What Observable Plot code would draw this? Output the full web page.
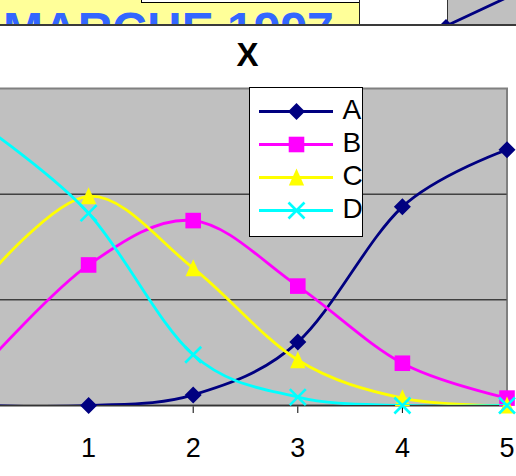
<!DOCTYPE html>
<html>
<head>
<meta charset="utf-8">
<script src="https://cdn.jsdelivr.net/npm/d3@7"></script>
<script src="https://cdn.jsdelivr.net/npm/@observablehq/plot@0.6"></script>
<style>
  html, body { margin: 0; padding: 0; overflow: hidden; background: #fff; }
  #page { position: relative; width: 516px; height: 476px; overflow: hidden; font-family: "Liberation Sans", Arial, sans-serif; }
  .abs { position: absolute; }
  #banner { left: 0; top: 0; width: 359px; height: 24px; background: #ffff99; border-right: 1px solid #222; overflow: hidden; }
  #banner .name { position: absolute; left: 3px; top: 19.8px; font-size: 48px; line-height: 20px; font-weight: bold; color: #3366ff; white-space: nowrap; }
  #banner .box { position: absolute; left: 141px; top: -1px; width: 217px; height: 2px; background: #fff; border: 1px solid #000; }
  #prevArea { left: 447px; top: 0; width: 69px; height: 24px; background: #c0c0c0; border-left: 1px solid #333; }
  #prevPlot { left: 430px; top: 0; width: 86px; height: 25px; overflow: hidden; }
  #rule { left: 0; top: 24px; width: 516px; height: 2px; background: #3a3a3a; }
  #title { left: 0; top: 41.5px; width: 495px; text-align: center; font-size: 33px; line-height: 26px; font-weight: bold; color: #000; }
  #chart { left: -46px; top: 60px; }
  #legend { left: 249px; top: 87px; width: 112px; height: 148px; background: #fff; border: 1px solid #000; }
</style>
</head>
<body>
<div id="page">
  <div id="banner" class="abs"><div class="name">MARCHE 1997</div><div class="box"></div></div>
  <div id="prevArea" class="abs"></div>
  <div id="prevPlot" class="abs"></div>
  <div id="rule" class="abs"></div>
  <div id="title" class="abs">X</div>
  <div id="chart" class="abs"></div>
  <div id="legend" class="abs"></div>
</div>
<script>
// x positions (0 sits just left of the visible area)
const xValues = [0, 1, 2, 3, 4, 5];
const xTicks = [1, 2, 3, 4, 5];
const gridValues = [1, 2];
const seriesNames = ["A", "B", "C", "D"];
const seriesA = [0, 0, 0.10, 0.60, 1.88, 2.42];
const seriesB = [0.37, 1.33, 1.75, 1.13, 0.40, 0.07];
const seriesC = [1.18, 1.98, 1.30, 0.43, 0.07, 0];
const seriesD = [2.64, 1.82, 0.48, 0.08, 0, 0];

// tail of the preceding chart at the top of the sheet
const prevX = [0, 1.3];
const prevValues = [0, 1.3];

const fontFamily = "'Liberation Sans', Arial, sans-serif";

// marker shapes: the radius r passed to Plot is the half-extent of the shape
const half = size => Math.sqrt(size / Math.PI);
const diamondSymbol = {draw(c, s) { const h = half(s); c.moveTo(0, -h); c.lineTo(h, 0); c.lineTo(0, h); c.lineTo(-h, 0); c.closePath(); }};
const squareSymbol = {draw(c, s) { const h = half(s); c.rect(-h, -h, 2 * h, 2 * h); }};
const triangleSymbol = {draw(c, s) { const h = half(s); c.moveTo(0, -h * 1.05); c.lineTo(h * 0.9, h * 0.95); c.lineTo(-h * 0.9, h * 0.95); c.closePath(); }};
const crossSymbol = {draw(c, s) { const h = half(s); c.moveTo(-h, -h); c.lineTo(h, h); c.moveTo(-h, h); c.lineTo(h, -h); }};

const series = [
  {name: seriesNames[0], values: seriesA, color: "#000080", symbol: diamondSymbol, r: 8.5, filled: true},
  {name: seriesNames[1], values: seriesB, color: "#ff00ff", symbol: squareSymbol, r: 7.8, filled: true},
  {name: seriesNames[2], values: seriesC, color: "#ffff00", symbol: triangleSymbol, r: 8.5, filled: true},
  {name: seriesNames[3], values: seriesD, color: "#00ffff", symbol: crossSymbol, r: 8, filled: false}
];

function markerOptions(s) {
  return s.filled
    ? {symbol: s.symbol, r: s.r, fill: s.color, stroke: "none"}
    : {symbol: s.symbol, r: s.r, fill: "none", stroke: s.color, strokeWidth: 2.6};
}

// main chart
const seriesMarks = series.flatMap(s => {
  const rows = xValues.map((x, i) => ({x, y: s.values[i]}));
  return [
    Plot.line(rows, {x: "x", y: "y", stroke: s.color, strokeWidth: 2.8, curve: "cardinal", clip: true}),
    Plot.dot(rows, {x: "x", y: "y", ...markerOptions(s)})
  ];
});

const chart = Plot.plot({
  width: 562,
  height: 416,
  marginLeft: 29.5,
  marginRight: 9.5,
  marginTop: 28,
  marginBottom: 71,
  x: {domain: [0, 5], ticks: xTicks, tickSize: 8, tickPadding: 24, tickFormat: d => String(d), label: null},
  y: {domain: [0, 3], axis: null},
  style: {fontFamily, fontSize: "27px", color: "#000", background: "transparent", overflow: "visible"},
  marks: [
    Plot.frame({fill: "#c0c0c0", stroke: "#808080", strokeWidth: 2}),
    Plot.ruleY(gridValues, {stroke: "#000", strokeWidth: 1}),
    Plot.ruleY([0], {stroke: "#333", strokeWidth: 1.5}),
    ...seriesMarks
  ]
});
document.getElementById("chart").appendChild(chart);

// legend
const legend = Plot.plot({
  width: 112,
  height: 148,
  margin: 0,
  x: {domain: [0, 1], range: [9, 83], axis: null},
  y: {type: "point", domain: seriesNames, range: [21.5, 123], padding: 0, axis: null},
  style: {fontFamily, fontSize: "28px", color: "#000", background: "transparent", overflow: "visible"},
  marks: series.flatMap(s => [
    Plot.ruleY([s.name], {x1: 0, x2: 1, stroke: s.color, strokeWidth: 2.8}),
    Plot.dot([s.name], {x: 0.5, y: d => d, ...markerOptions(s)}),
    Plot.text([s.name], {x: 1, y: d => d, text: d => d, dx: 9, dy: -1, fontSize: 28, textAnchor: "start", fill: "#000"})
  ])
});
document.getElementById("legend").appendChild(legend);

// preceding chart's last segment
const prevRows = prevX.map((x, i) => ({x, y: prevValues[i]}));
const prevPlot = Plot.plot({
  width: 86,
  height: 25,
  margin: 0,
  x: {domain: [0, 1], range: [15.5, 70], axis: null},
  y: {domain: [0, 1], range: [25.5, 0], axis: null},
  style: {background: "transparent"},
  marks: [
    Plot.line(prevRows, {x: "x", y: "y", stroke: "#000080", strokeWidth: 2.8}),
    Plot.dot(prevRows.slice(0, 1), {x: "x", y: "y", symbol: diamondSymbol, r: 7, fill: "#000080"})
  ]
});
document.getElementById("prevPlot").appendChild(prevPlot);
</script>
</body>
</html>
